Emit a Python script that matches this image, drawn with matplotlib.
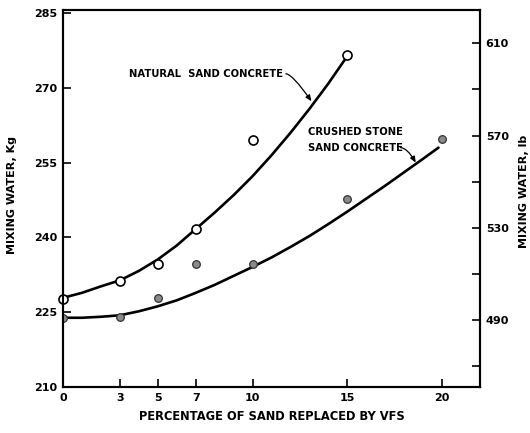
import numpy as np
import matplotlib
matplotlib.use('Agg')
import matplotlib.pyplot as plt

# measured points (% of sand replaced by VFS, mixing water in kg)
pct = [0, 3, 5, 7, 10, 15]
natural_kg = [227.7, 231.2, 234.6, 241.6, 259.5, 276.6]
crushed_pct = [0, 3, 5, 7, 10, 15, 20]
crushed_kg = [223.8, 224.0, 227.8, 234.6, 234.6, 247.7, 259.7]

# fitted curves as drawn on the original figure
natural_curve_x = [0, 1, 2, 3, 4, 5, 6, 7, 8, 9, 10, 11, 12, 13, 14, 15]
natural_curve_y = [227.9, 228.9, 230.2, 231.4, 233.3, 235.6, 238.4, 241.7,
                   245.0, 248.5, 252.3, 256.5, 261.0, 265.8, 270.9, 276.4]
crushed_curve_x = [0, 1, 2, 3, 4, 5, 6, 7, 8, 9, 10, 11, 12, 13, 14, 15,
                   16, 17, 18, 19, 19.8]
crushed_curve_y = [223.9, 223.9, 224.1, 224.4, 225.2, 226.2, 227.4, 228.9,
                   230.5, 232.3, 234.1, 236.0, 238.1, 240.3, 242.7, 245.2,
                   247.8, 250.4, 253.1, 255.8, 258.0]

xticks = [0, 3, 5, 7, 10, 15, 20]
kg_ticks = [210, 225, 240, 255, 270, 285]
lb_ticks = [490, 530, 570, 610]
lb_minor = [470, 510, 550, 590]

fig = plt.figure(figsize=(5.3, 4.33), dpi=100)
ax = fig.add_axes([0.119, 0.106, 0.787, 0.871])

ax.plot(natural_curve_x, natural_curve_y, color='black', lw=1.9,
        solid_capstyle='round', solid_joinstyle='round', zorder=2)
ax.plot(crushed_curve_x, crushed_curve_y, color='black', lw=1.9,
        solid_capstyle='round', solid_joinstyle='round', zorder=2)
ax.plot(crushed_pct, crushed_kg, 'o', ms=5.5, mfc='#8a8a8a', mec='#333333',
        mew=0.9, zorder=3)
ax.plot(pct, natural_kg, 'o', ms=6.5, mfc='white', mec='black', mew=1.2,
        zorder=4, clip_on=False)

ax.set_xlim(0, 22)
ax.set_ylim(210, 285.6)
ax.set_xticks(xticks)
ax.set_yticks(kg_ticks)

bold = dict(fontweight='bold', fontfamily='DejaVu Sans')
ax.set_xticklabels([str(t) for t in xticks], fontsize=8, **bold)
ax.set_yticklabels([str(t) for t in kg_ticks], fontsize=8, **bold)
ax.tick_params(direction='in', length=6, width=1.2, pad=4)

for s in ax.spines.values():
    s.set_linewidth(1.5)

ax.set_xlabel('PERCENTAGE OF SAND REPLACED BY VFS', fontsize=8.3,
              labelpad=5, **bold)
ax.set_ylabel('MIXING WATER, Kg', fontsize=8, **bold)
ax.yaxis.set_label_coords(-0.11, 0.51)

ax2 = ax.twinx()
ax2.set_ylim(461, 624.4)
ax2.set_yticks(lb_ticks)
ax2.set_yticks(lb_minor, minor=True)
ax2.set_yticklabels([str(t) for t in lb_ticks], fontsize=8, **bold)
ax2.tick_params(direction='in', length=6, width=1.2, pad=4, which='both')
ax2.set_ylabel('MIXING WATER, lb', fontsize=8, **bold)
ax2.yaxis.set_label_coords(1.094, 0.52)
for s in ax2.spines.values():
    s.set_linewidth(1.5)

# labels with leader arrows
arrow = dict(arrowstyle='-|>,head_length=0.35,head_width=0.15',
             color='black', lw=0.9, shrinkA=0, shrinkB=0)
ax.annotate('', xy=(13.1, 267.3), xytext=(11.75, 272.8),
            arrowprops=dict(arrow,
                            connectionstyle='angle3,angleA=0,angleB=-55'))
ax.text(3.5, 272.8, 'NATURAL  SAND CONCRETE', fontsize=7.2, va='center',
        ha='left', **bold)

ax.annotate('', xy=(18.6, 255.0), xytext=(17.8, 258.0),
            arrowprops=dict(arrow,
                            connectionstyle='angle3,angleA=0,angleB=-60'))
ax.text(12.9, 261.1, 'CRUSHED STONE', fontsize=7.2, va='center', ha='left',
        **bold)
ax.text(12.9, 258.0, 'SAND CONCRETE', fontsize=7.2, va='center', ha='left',
        **bold)

fig.savefig('out.png', dpi=100)
